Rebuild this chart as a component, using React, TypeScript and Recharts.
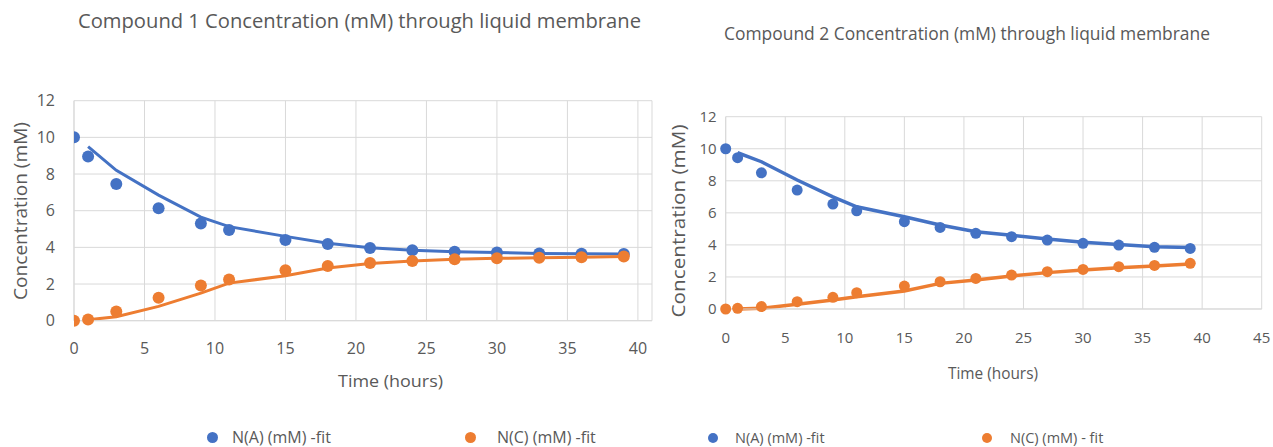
import React from 'react';
import { ComposedChart, Line, XAxis, YAxis, CartesianGrid, Legend } from 'recharts';

const hours = [0, 1, 3, 6, 9, 11, 15, 18, 21, 24, 27, 30, 33, 36, 39];

const c1A = [10.0, 8.95, 7.45, 6.13, 5.3, 4.95, 4.4, 4.18, 3.97, 3.84, 3.76, 3.72, 3.67, 3.65, 3.64];
const c1C = [0.0, 0.07, 0.5, 1.25, 1.92, 2.25, 2.75, 2.98, 3.15, 3.26, 3.35, 3.4, 3.44, 3.46, 3.5];
const c1AFit = [null, 9.5, 8.2, 6.85, 5.65, 5.13, 4.6, 4.22, 3.98, 3.84, 3.76, 3.72, 3.67, 3.65, 3.64];
const c1CFit = [null, 0.05, 0.22, 0.78, 1.5, 2.05, 2.45, 2.87, 3.12, 3.25, 3.35, 3.4, 3.44, 3.46, 3.5];

const c2A = [10.0, 9.44, 8.5, 7.42, 6.55, 6.13, 5.45, 5.09, 4.72, 4.51, 4.3, 4.1, 3.99, 3.85, 3.78];
const c2C = [0.0, 0.04, 0.15, 0.46, 0.73, 1.02, 1.43, 1.7, 1.91, 2.12, 2.33, 2.47, 2.64, 2.72, 2.85];
const c2AFit = [null, 9.75, 9.19, 8.05, 7.0, 6.38, 5.76, 5.24, 4.82, 4.6, 4.37, 4.16, 4.03, 3.89, 3.83];
const c2CFit = [null, 0.0, 0.04, 0.29, 0.56, 0.77, 1.12, 1.6, 1.81, 2.06, 2.27, 2.43, 2.58, 2.68, 2.81];

const yTicks = [0, 2, 4, 6, 8, 10, 12];
const xTicks1 = [0, 5, 10, 15, 20, 25, 30, 35, 40];
const xTicks2 = [0, 5, 10, 15, 20, 25, 30, 35, 40, 45];

const title1 = 'Compound 1 Concentration (mM) through liquid membrane';
const title2 = 'Compound 2 Concentration (mM) through liquid membrane';
const yLabel = 'Concentration (mM)';
const xLabel = 'Time (hours)';
const legendA = 'N(A) (mM) -fit';
const legendC1 = 'N(C) (mM) -fit';
const legendC2 = 'N(C) (mM) - fit';

const BLUE = '#4472C4';
const ORANGE = '#ED7D31';
const TEXT = '#595959';
const GRID = '#d9d9d9';
const FONT = '"Open Sans", sans-serif';

const rows1 = hours.map((t, i) => ({ t, a: c1A[i], c: c1C[i], aFit: c1AFit[i], cFit: c1CFit[i] }));
const rows2 = hours.map((t, i) => ({ t, a: c2A[i], c: c2C[i], aFit: c2AFit[i], cFit: c2CFit[i] }));

type LegendItem = { label: string; color: string; dotX: number; textX: number };

const makeLegend = (items: LegendItem[], fontSize: number, dotR: number) => () => (
  <div style={{ position: 'relative', width: '100%', height: 22, fontFamily: FONT }}>
    {items.map((it) => (
      <React.Fragment key={it.label + it.dotX}>
        <div
          style={{
            position: 'absolute',
            left: it.dotX - dotR,
            top: 11 - dotR,
            width: dotR * 2,
            height: dotR * 2,
            borderRadius: '50%',
            background: it.color,
          }}
        />
        <div
          style={{
            position: 'absolute',
            left: it.textX,
            top: 0,
            height: 22,
            lineHeight: '22px',
            fontSize,
            color: TEXT,
            whiteSpace: 'nowrap',
          }}
        >
          {it.label}
        </div>
      </React.Fragment>
    ))}
  </div>
);

const legend1 = makeLegend(
  [
    { label: legendA, color: BLUE, dotX: 212, textX: 232 },
    { label: legendC1, color: ORANGE, dotX: 470, textX: 497 },
  ],
  16,
  5.5
);
const legend2 = makeLegend(
  [
    { label: legendA, color: BLUE, dotX: 53, textX: 75 },
    { label: legendC2, color: ORANGE, dotX: 327, textX: 350 },
  ],
  14.5,
  5
);

export default function App() {
  return (
    <div style={{ position: 'absolute', left: 0, top: 0, width: 1273, height: 447, background: '#fff', fontFamily: FONT }}>
      <div style={{ position: 'absolute', left: 0, top: 0 }}>
        <ComposedChart width={660} height={447} data={rows1} margin={{ top: 100.7, right: 8, bottom: 96.3, left: 0 }}>
          <CartesianGrid stroke={GRID} strokeWidth={1} />
          <XAxis
            dataKey="t"
            type="number"
            domain={[0, 41]}
            ticks={xTicks1}
            allowDataOverflow
            height={30}
            tickSize={0}
            tickMargin={22}
            axisLine={{ stroke: GRID }}
            tickLine={false}
            tick={{ fill: TEXT, fontSize: 16, fontFamily: FONT }}
          />
          <YAxis
            type="number"
            domain={[0, 12]}
            ticks={yTicks}
            width={74}
            tickSize={0}
            tickMargin={19}
            axisLine={{ stroke: GRID }}
            tickLine={false}
            tick={{ fill: TEXT, fontSize: 16, fontFamily: FONT }}
          />
          <Legend layout="horizontal" verticalAlign="middle" align="center" content={legend1} wrapperStyle={{ top: 426, left: 0, width: 660, height: 22 }} />
          <Line dataKey="aFit" type="linear" stroke={BLUE} strokeWidth={3} dot={false} activeDot={false} connectNulls legendType="none" isAnimationActive={false} />
          <Line dataKey="cFit" type="linear" stroke={ORANGE} strokeWidth={3} dot={false} activeDot={false} connectNulls legendType="none" isAnimationActive={false} />
          <Line dataKey="a" name={legendA} stroke="none" dot={{ r: 6, fill: BLUE, stroke: BLUE, strokeWidth: 0 }} activeDot={false} isAnimationActive={false} />
          <Line dataKey="c" name={legendC1} stroke="none" dot={{ r: 6, fill: ORANGE, stroke: ORANGE, strokeWidth: 0 }} activeDot={false} isAnimationActive={false} />
        </ComposedChart>
      </div>
      <div style={{ position: 'absolute', left: 660, top: 0 }}>
        <ComposedChart width={613} height={447} data={rows2} margin={{ top: 116.7, right: 11.3, bottom: 108, left: 0 }}>
          <CartesianGrid stroke={GRID} strokeWidth={1} />
          <XAxis
            dataKey="t"
            type="number"
            domain={[0, 45]}
            ticks={xTicks2}
            height={30}
            tickSize={0}
            tickMargin={23}
            axisLine={{ stroke: GRID }}
            tickLine={false}
            tick={{ fill: TEXT, fontSize: 15, fontFamily: FONT }}
          />
          <YAxis
            type="number"
            domain={[0, 12]}
            ticks={yTicks}
            width={65.7}
            tickSize={0}
            tickMargin={9}
            axisLine={{ stroke: GRID }}
            tickLine={false}
            tick={{ fill: TEXT, fontSize: 15, fontFamily: FONT }}
          />
          <Legend layout="horizontal" verticalAlign="middle" align="center" content={legend2} wrapperStyle={{ top: 427, left: 0, width: 613, height: 22 }} />
          <Line dataKey="aFit" type="linear" stroke={BLUE} strokeWidth={3.5} dot={false} activeDot={false} connectNulls legendType="none" isAnimationActive={false} />
          <Line dataKey="cFit" type="linear" stroke={ORANGE} strokeWidth={3.5} dot={false} activeDot={false} connectNulls legendType="none" isAnimationActive={false} />
          <Line dataKey="a" name={legendA} stroke="none" dot={{ r: 5.5, fill: BLUE, stroke: BLUE, strokeWidth: 0 }} activeDot={false} isAnimationActive={false} />
          <Line dataKey="c" name={legendC2} stroke="none" dot={{ r: 5.5, fill: ORANGE, stroke: ORANGE, strokeWidth: 0 }} activeDot={false} isAnimationActive={false} />
        </ComposedChart>
      </div>
      <svg width={1273} height={447} style={{ position: 'absolute', left: 0, top: 0, pointerEvents: 'none' }}>
        <g fill={TEXT} fontFamily={FONT}>
          <text x={359.5} y={20} fontSize={20} textAnchor="middle" dominantBaseline="central" textLength={563} lengthAdjust="spacingAndGlyphs">{title1}</text>
          <text x={967} y={33} fontSize={18} textAnchor="middle" dominantBaseline="central" textLength={486} lengthAdjust="spacingAndGlyphs">{title2}</text>
          <text x={20} y={211} fontSize={18} textAnchor="middle" dominantBaseline="central" transform="rotate(-90 20 211)" textLength={178} lengthAdjust="spacingAndGlyphs">{yLabel}</text>
          <text x={678} y={221} fontSize={18} textAnchor="middle" dominantBaseline="central" transform="rotate(-90 678 221)" textLength={193} lengthAdjust="spacingAndGlyphs">{yLabel}</text>
          <text x={390.5} y={380} fontSize={17} textAnchor="middle" dominantBaseline="central" textLength={105} lengthAdjust="spacingAndGlyphs">{xLabel}</text>
          <text x={993} y={373} fontSize={16} textAnchor="middle" dominantBaseline="central" textLength={90} lengthAdjust="spacingAndGlyphs">{xLabel}</text>
        </g>
      </svg>
    </div>
  );
}
